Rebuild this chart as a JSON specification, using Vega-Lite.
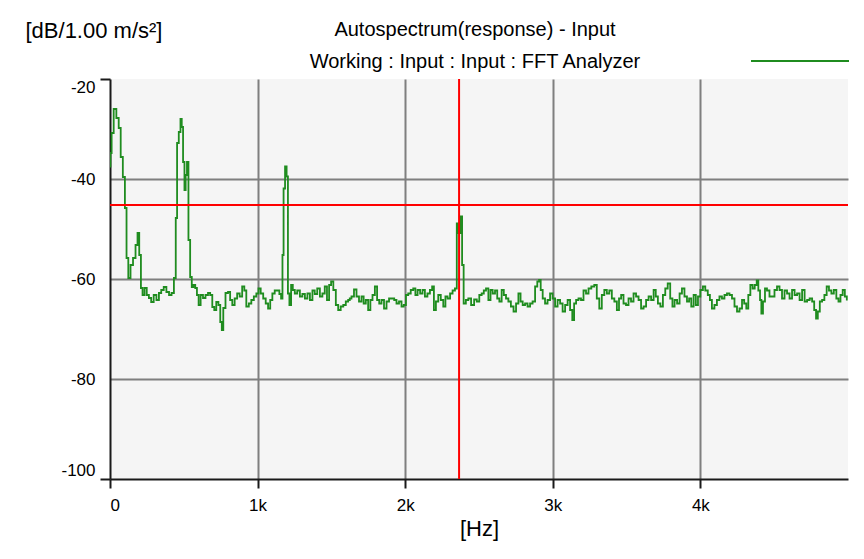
{
  "$schema": "https://vega.github.io/schema/vega-lite/v6.json",
  "width": 738,
  "height": 400,
  "autosize": {"type": "none"},
  "padding": {"left": 110, "top": 79, "right": 16, "bottom": 80},
  "background": "#ffffff",
  "config": {
    "view": {"fill": "#f5f5f5", "stroke": null},
    "font": "Liberation Sans"
  },
  "title": {
    "text": "Autospectrum(response) - Input",
    "subtitle": "Working : Input : Input : FFT Analyzer",
    "anchor": "middle",
    "font": "Liberation Sans",
    "subtitleFont": "Liberation Sans",
    "fontSize": 20,
    "subtitleFontSize": 20,
    "fontWeight": "normal",
    "color": "#000000",
    "subtitleColor": "#000000",
    "subtitlePadding": 12,
    "offset": 6,
    "dx": -4,
    "dy": 67
  },
  "datasets": {
    "spectrum": [
      {"hz": 0, "db": -37.5}, {"hz": 6, "db": -34.8}, {"hz": 16, "db": -30.8}, {"hz": 34, "db": -26}, {"hz": 52, "db": -27.8}, {"hz": 66, "db": -29.8}, {"hz": 79, "db": -35.6}, {"hz": 95, "db": -39.6}, {"hz": 107, "db": -45.8}, {"hz": 117, "db": -55.8}, {"hz": 131, "db": -59.8}, {"hz": 147, "db": -57.2}, {"hz": 165, "db": -55.8}, {"hz": 181, "db": -53.2}, {"hz": 192, "db": -50.8}, {"hz": 204, "db": -55.2}, {"hz": 215, "db": -61.8}, {"hz": 226, "db": -63.2}, {"hz": 242, "db": -61.8}, {"hz": 256, "db": -63.2}, {"hz": 271, "db": -63.8}, {"hz": 287, "db": -64.6}, {"hz": 305, "db": -63.2}, {"hz": 324, "db": -64.2}, {"hz": 339, "db": -62.8}, {"hz": 355, "db": -62.2}, {"hz": 373, "db": -61.6}, {"hz": 391, "db": -62.6}, {"hz": 409, "db": -63.2}, {"hz": 425, "db": -62.8}, {"hz": 441, "db": -59.8}, {"hz": 450, "db": -47.8}, {"hz": 459, "db": -32.8}, {"hz": 473, "db": -30.6}, {"hz": 482, "db": -28}, {"hz": 490, "db": -29.6}, {"hz": 500, "db": -36.6}, {"hz": 509, "db": -42.2}, {"hz": 516, "db": -39.2}, {"hz": 527, "db": -36.6}, {"hz": 536, "db": -52.2}, {"hz": 550, "db": -59.6}, {"hz": 558, "db": -61.6}, {"hz": 572, "db": -61.2}, {"hz": 583, "db": -61.8}, {"hz": 595, "db": -63.2}, {"hz": 606, "db": -65.2}, {"hz": 622, "db": -63.2}, {"hz": 638, "db": -63.8}, {"hz": 656, "db": -63.2}, {"hz": 672, "db": -62.8}, {"hz": 685, "db": -63.2}, {"hz": 701, "db": -65.6}, {"hz": 712, "db": -66.2}, {"hz": 728, "db": -64.6}, {"hz": 741, "db": -65.2}, {"hz": 753, "db": -68.6}, {"hz": 762, "db": -70.2}, {"hz": 773, "db": -65.8}, {"hz": 792, "db": -62.8}, {"hz": 807, "db": -62.6},
      {"hz": 821, "db": -64.2}, {"hz": 836, "db": -65.2}, {"hz": 853, "db": -63.9}, {"hz": 870, "db": -62.9}, {"hz": 887, "db": -63.5}, {"hz": 904, "db": -61.5}, {"hz": 916, "db": -62.3}, {"hz": 931, "db": -65.5}, {"hz": 950, "db": -64.9}, {"hz": 965, "db": -64.2}, {"hz": 984, "db": -63.5}, {"hz": 999, "db": -62.9}, {"hz": 1013, "db": -61.9}, {"hz": 1029, "db": -62.9}, {"hz": 1047, "db": -63.9}, {"hz": 1063, "db": -64.9}, {"hz": 1079, "db": -65.9}, {"hz": 1092, "db": -64.2}, {"hz": 1108, "db": -62.9}, {"hz": 1124, "db": -62.3}, {"hz": 1142, "db": -62.3}, {"hz": 1153, "db": -63}, {"hz": 1165, "db": -63.9}, {"hz": 1172, "db": -55.2}, {"hz": 1180, "db": -41.9}, {"hz": 1192, "db": -37.5}, {"hz": 1201, "db": -39.5}, {"hz": 1210, "db": -62.9}, {"hz": 1221, "db": -65.2}, {"hz": 1233, "db": -61.2}, {"hz": 1244, "db": -62.2}, {"hz": 1260, "db": -62.9}, {"hz": 1277, "db": -62.3}, {"hz": 1296, "db": -63.5}, {"hz": 1311, "db": -63}, {"hz": 1330, "db": -63.9}, {"hz": 1345, "db": -62.9}, {"hz": 1364, "db": -64.2}, {"hz": 1379, "db": -62.3}, {"hz": 1395, "db": -63}, {"hz": 1413, "db": -61.9}, {"hz": 1431, "db": -63.5}, {"hz": 1447, "db": -62.9}, {"hz": 1463, "db": -61.5}, {"hz": 1477, "db": -64.2}, {"hz": 1492, "db": -61.2}, {"hz": 1504, "db": -60.5}, {"hz": 1522, "db": -62.2}, {"hz": 1538, "db": -65.2}, {"hz": 1554, "db": -66.2}, {"hz": 1572, "db": -65.5}, {"hz": 1589, "db": -65.2}, {"hz": 1606, "db": -64.5}, {"hz": 1621, "db": -64.2},
      {"hz": 1628, "db": -63.9}, {"hz": 1644, "db": -63.5}, {"hz": 1662, "db": -62.1}, {"hz": 1678, "db": -63.5}, {"hz": 1696, "db": -64.5}, {"hz": 1712, "db": -63.5}, {"hz": 1725, "db": -64.9}, {"hz": 1741, "db": -64.2}, {"hz": 1757, "db": -66.2}, {"hz": 1771, "db": -64.2}, {"hz": 1786, "db": -63.2}, {"hz": 1803, "db": -61.5}, {"hz": 1816, "db": -64.2}, {"hz": 1832, "db": -64.9}, {"hz": 1847, "db": -64.2}, {"hz": 1866, "db": -65.9}, {"hz": 1881, "db": -64.5}, {"hz": 1900, "db": -63.9}, {"hz": 1918, "db": -63.9}, {"hz": 1933, "db": -64.2}, {"hz": 1949, "db": -64.9}, {"hz": 1967, "db": -64.5}, {"hz": 1983, "db": -65.5}, {"hz": 1997, "db": -65.2}, {"hz": 2013, "db": -63.2}, {"hz": 2028, "db": -62.9}, {"hz": 2047, "db": -62.2}, {"hz": 2062, "db": -61.9}, {"hz": 2076, "db": -63.2}, {"hz": 2092, "db": -62.2}, {"hz": 2110, "db": -62.9}, {"hz": 2125, "db": -62.2}, {"hz": 2142, "db": -63.5}, {"hz": 2159, "db": -62.9}, {"hz": 2176, "db": -62.2}, {"hz": 2189, "db": -61.5}, {"hz": 2200, "db": -66.2}, {"hz": 2216, "db": -64.5}, {"hz": 2232, "db": -63.2}, {"hz": 2250, "db": -64.2}, {"hz": 2266, "db": -65.5}, {"hz": 2279, "db": -63.5}, {"hz": 2295, "db": -63.9}, {"hz": 2313, "db": -62.9}, {"hz": 2329, "db": -62.3}, {"hz": 2345, "db": -61.9}, {"hz": 2354, "db": -48.9}, {"hz": 2368, "db": -50.8}, {"hz": 2381, "db": -47.5}, {"hz": 2390, "db": -57.2}, {"hz": 2402, "db": -64.9}, {"hz": 2420, "db": -64.2}, {"hz": 2435, "db": -63.9},
      {"hz": 2458, "db": -65.2}, {"hz": 2476, "db": -64.1}, {"hz": 2494, "db": -64.5}, {"hz": 2510, "db": -63.2}, {"hz": 2526, "db": -62.9}, {"hz": 2539, "db": -62.3}, {"hz": 2556, "db": -61.9}, {"hz": 2571, "db": -64.2}, {"hz": 2585, "db": -62.2}, {"hz": 2600, "db": -62.9}, {"hz": 2617, "db": -62.3}, {"hz": 2630, "db": -63.9}, {"hz": 2646, "db": -64.5}, {"hz": 2661, "db": -62.2}, {"hz": 2675, "db": -63.2}, {"hz": 2691, "db": -63.9}, {"hz": 2707, "db": -64.5}, {"hz": 2725, "db": -65.5}, {"hz": 2743, "db": -66.5}, {"hz": 2759, "db": -64.9}, {"hz": 2775, "db": -62.9}, {"hz": 2788, "db": -64.5}, {"hz": 2804, "db": -65.2}, {"hz": 2820, "db": -64.9}, {"hz": 2838, "db": -65.5}, {"hz": 2854, "db": -64.9}, {"hz": 2872, "db": -64.5}, {"hz": 2888, "db": -61.5}, {"hz": 2902, "db": -60.5}, {"hz": 2912, "db": -60.2}, {"hz": 2924, "db": -62.2}, {"hz": 2939, "db": -63.9}, {"hz": 2956, "db": -64.9}, {"hz": 2973, "db": -64.2}, {"hz": 2990, "db": -62.9}, {"hz": 3007, "db": -63.9}, {"hz": 3024, "db": -65.5}, {"hz": 3041, "db": -64.2}, {"hz": 3058, "db": -64.9}, {"hz": 3075, "db": -66.5}, {"hz": 3092, "db": -65.2}, {"hz": 3109, "db": -64.2}, {"hz": 3125, "db": -66.2}, {"hz": 3139, "db": -68.2}, {"hz": 3150, "db": -64.9}, {"hz": 3166, "db": -64.2}, {"hz": 3182, "db": -63.9}, {"hz": 3200, "db": -64.2}, {"hz": 3216, "db": -62.3}, {"hz": 3234, "db": -62.9}, {"hz": 3250, "db": -61.9},
      {"hz": 3272, "db": -61.5}, {"hz": 3290, "db": -61.2}, {"hz": 3306, "db": -63.9}, {"hz": 3324, "db": -65.9}, {"hz": 3340, "db": -63.2}, {"hz": 3358, "db": -62.2}, {"hz": 3374, "db": -62.9}, {"hz": 3392, "db": -62.3}, {"hz": 3408, "db": -63.9}, {"hz": 3426, "db": -64.5}, {"hz": 3442, "db": -66.2}, {"hz": 3455, "db": -63.9}, {"hz": 3471, "db": -63.2}, {"hz": 3487, "db": -64.9}, {"hz": 3505, "db": -65.2}, {"hz": 3521, "db": -63.9}, {"hz": 3539, "db": -64.5}, {"hz": 3555, "db": -62.9}, {"hz": 3573, "db": -63.5}, {"hz": 3589, "db": -64.2}, {"hz": 3607, "db": -65.9}, {"hz": 3623, "db": -65.5}, {"hz": 3641, "db": -64.2}, {"hz": 3657, "db": -63.5}, {"hz": 3675, "db": -64.2}, {"hz": 3691, "db": -62.2}, {"hz": 3704, "db": -63.5}, {"hz": 3720, "db": -64.9}, {"hz": 3738, "db": -65.5}, {"hz": 3754, "db": -63.2}, {"hz": 3770, "db": -61.9}, {"hz": 3787, "db": -60.9}, {"hz": 3804, "db": -63.9}, {"hz": 3817, "db": -65.5}, {"hz": 3833, "db": -64.2}, {"hz": 3851, "db": -64.9}, {"hz": 3867, "db": -62.9}, {"hz": 3883, "db": -61.9}, {"hz": 3901, "db": -63.5}, {"hz": 3917, "db": -64.5}, {"hz": 3930, "db": -63.9}, {"hz": 3946, "db": -65.5}, {"hz": 3962, "db": -63.2}, {"hz": 3976, "db": -65.2}, {"hz": 3991, "db": -63.5}, {"hz": 4009, "db": -62.2}, {"hz": 4025, "db": -61.5}, {"hz": 4041, "db": -62.3}, {"hz": 4059, "db": -63.2},
      {"hz": 4070, "db": -64.2}, {"hz": 4086, "db": -65.9}, {"hz": 4104, "db": -65.2}, {"hz": 4120, "db": -64.2}, {"hz": 4138, "db": -63.5}, {"hz": 4154, "db": -63.9}, {"hz": 4172, "db": -63.2}, {"hz": 4188, "db": -62.9}, {"hz": 4206, "db": -63.2}, {"hz": 4222, "db": -63.9}, {"hz": 4240, "db": -65.5}, {"hz": 4256, "db": -66.5}, {"hz": 4274, "db": -65.9}, {"hz": 4290, "db": -64.2}, {"hz": 4303, "db": -64.9}, {"hz": 4319, "db": -65.9}, {"hz": 4330, "db": -63.2}, {"hz": 4347, "db": -61.2}, {"hz": 4360, "db": -61.9}, {"hz": 4376, "db": -61.2}, {"hz": 4387, "db": -60.3}, {"hz": 4398, "db": -62.3}, {"hz": 4410, "db": -64.2}, {"hz": 4416, "db": -66.9}, {"hz": 4432, "db": -64.5}, {"hz": 4443, "db": -61.9}, {"hz": 4459, "db": -62.3}, {"hz": 4477, "db": -63.5}, {"hz": 4493, "db": -63.5}, {"hz": 4511, "db": -62.2}, {"hz": 4527, "db": -61.5}, {"hz": 4545, "db": -62.2}, {"hz": 4561, "db": -63.9}, {"hz": 4579, "db": -62.3}, {"hz": 4595, "db": -62.9}, {"hz": 4613, "db": -63.9}, {"hz": 4629, "db": -62.2}, {"hz": 4647, "db": -63.2}, {"hz": 4663, "db": -62.9}, {"hz": 4681, "db": -64.2}, {"hz": 4697, "db": -62.2}, {"hz": 4715, "db": -64.5}, {"hz": 4731, "db": -64.2}, {"hz": 4749, "db": -63.9}, {"hz": 4765, "db": -64.5}, {"hz": 4777, "db": -66.2}, {"hz": 4790, "db": -67.9}, {"hz": 4801, "db": -66.5}, {"hz": 4817, "db": -64.5}, {"hz": 4832, "db": -64.2}, {"hz": 4848, "db": -63.2}, {"hz": 4863, "db": -61.5}, {"hz": 4879, "db": -62.3}, {"hz": 4896, "db": -62.9}, {"hz": 4912, "db": -62.2}, {"hz": 4930, "db": -63.9}, {"hz": 4941, "db": -64.5}, {"hz": 4957, "db": -63.2}, {"hz": 4971, "db": -62.2}, {"hz": 4986, "db": -63.5}, {"hz": 4998, "db": -64.1}
    ],
    "cursor": [
      {"hz": 2365, "db": -45.2}
    ]
  },
  "layer": [
    {
      "data": {"name": "spectrum"},
      "mark": {"type": "line", "interpolate": "step", "strokeWidth": 1.8, "clip": true},
      "encoding": {
        "x": {
          "field": "hz",
          "type": "quantitative",
          "title": "[Hz]",
          "scale": {"domain": [0, 5000], "nice": false, "zero": false},
          "axis": {
            "title": "[Hz]",
            "values": [0, 1000, 2000, 3000, 4000],
            "labelExpr": "datum.value == 0 ? '0' : format(datum.value / 1000, 'd') + 'k'",
            "labelFlush": true,
            "grid": true,
            "gridColor": {"condition": {"test": "datum.value == 0", "value": "transparent"}, "value": "#7f7f7f"},
            "gridWidth": 2,
            "domainColor": "#1a1a1a",
            "domainWidth": 2,
            "tickColor": "#1a1a1a",
            "tickWidth": 2,
            "tickSize": 9,
            "labelFont": "Liberation Sans",
            "labelFontSize": 17,
            "labelColor": "#000000",
            "labelPadding": 9,
            "titleFont": "Liberation Sans",
            "titleFontSize": 22,
            "titleFontWeight": "normal",
            "titleColor": "#000000",
            "titlePadding": 5
          }
        },
        "y": {
          "field": "db",
          "type": "quantitative",
          "title": "[dB/1.00 m/s²]",
          "scale": {"domain": [-100, -20], "nice": false, "zero": false},
          "axis": {
            "title": "[dB/1.00 m/s²]",
            "values": [-100, -80, -60, -40, -20],
            "labelExpr": "'-' + abs(datum.value)",
            "labelFlush": true,
            "grid": true,
            "gridColor": {"condition": {"test": "datum.value == -20 || datum.value == -100", "value": "transparent"}, "value": "#7f7f7f"},
            "gridWidth": 2,
            "domainColor": "#1a1a1a",
            "domainWidth": 2,
            "tickColor": {"condition": {"test": "datum.value == -20 || datum.value == -100", "value": "#1a1a1a"}, "value": "transparent"},
            "tickWidth": 2,
            "tickSize": 10,
            "labelFont": "Liberation Sans",
            "labelFontSize": 17,
            "labelColor": "#000000",
            "labelPadding": 5,
            "titleFont": "Liberation Sans",
            "titleFontSize": 22,
            "titleFontWeight": "normal",
            "titleColor": "#000000",
            "titleAngle": 0,
            "titleAlign": "left",
            "titleBaseline": "middle",
            "titleX": -85,
            "titleY": -49
          }
        },
        "color": {
          "datum": "Working : Input : Input : FFT Analyzer",
          "scale": {"range": ["#1f8c1f"]},
          "legend": {
            "orient": "none",
            "legendX": 640,
            "legendY": -68,
            "title": null,
            "symbolType": "stroke",
            "symbolSize": 9604,
            "symbolStrokeWidth": 2,
            "labelExpr": "''",
            "padding": 0
          }
        }
      }
    },
    {
      "data": {"name": "cursor"},
      "mark": {"type": "rule", "color": "#ff0000", "strokeWidth": 2},
      "encoding": {
        "x": {"field": "hz", "type": "quantitative", "title": "[Hz]"}
      }
    },
    {
      "data": {"name": "cursor"},
      "mark": {"type": "rule", "color": "#ff0000", "strokeWidth": 2},
      "encoding": {
        "y": {"field": "db", "type": "quantitative", "title": "[dB/1.00 m/s²]"}
      }
    }
  ]
}
